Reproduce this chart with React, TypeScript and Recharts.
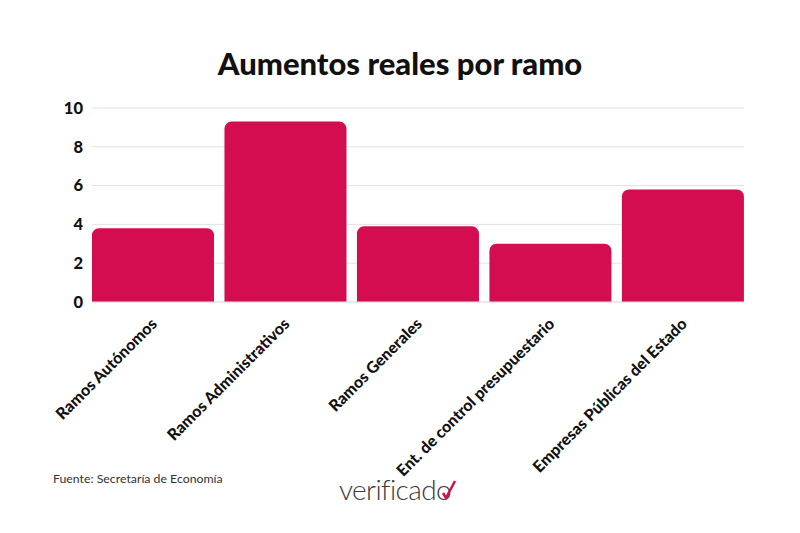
import React from 'react';
import { BarChart, Bar, XAxis, YAxis, CartesianGrid } from 'recharts';

const categories = [
  'Ramos Autónomos',
  'Ramos Administrativos',
  'Ramos Generales',
  'Ent. de control presupuestario',
  'Empresas Públicas del Estado',
];
const aumentos = [3.8, 9.3, 3.9, 3.0, 5.8];
const yTicks = [0, 2, 4, 6, 8, 10];

const data = categories.map((name, i) => ({ name, value: aumentos[i] }));

const FONT = 'Lato, "Open Sans", sans-serif';

const RotatedTick = (props: any) => {
  const { x, y, payload } = props;
  return (
    <g transform={`translate(${x + 5},${y + 15})`}>
      <text
        transform="rotate(-45)"
        textAnchor="end"
        fill="#111"
        fontSize={16}
        fontWeight={900}
        fontFamily={FONT}
      >
        {payload.value}
      </text>
    </g>
  );
};

export default function App() {
  return (
    <div
      style={{
        position: 'absolute',
        left: 0,
        top: 0,
        width: 800,
        height: 533,
        background: '#fff',
        fontFamily: FONT,
      }}
    >
      <div
        style={{
          position: 'absolute',
          top: 44,
          left: 0,
          width: 800,
          textAlign: 'center',
          fontSize: 31,
          fontWeight: 900,
          color: '#111',
        }}
      >
        Aumentos reales por ramo
      </div>

      <BarChart
        width={800}
        height={533}
        data={data}
        margin={{ top: 108, right: 56, bottom: 51, left: 52 }}
        barCategoryGap={5.2}
      >
        <CartesianGrid vertical={false} stroke="#e2e2e2" />
        <YAxis
          width={40}
          domain={[0, 10]}
          ticks={yTicks}
          axisLine={false}
          tickLine={false}
          tickMargin={3}
          tick={{ fill: '#111', fontSize: 16.5, fontWeight: 900, fontFamily: FONT }}
        />
        <XAxis
          dataKey="name"
          height={180}
          interval={0}
          padding={{ left: -5.2, right: -5.2 }}
          axisLine={{ stroke: '#e2e2e2' }}
          tickLine={false}
          tick={<RotatedTick />}
        />
        <Bar dataKey="value" fill="#d30d4f" radius={[7, 7, 0, 0]} isAnimationActive={false} />
      </BarChart>

      <div
        style={{
          position: 'absolute',
          left: 53,
          top: 471,
          fontSize: 12.3,
          color: '#333',
        }}
      >
        Fuente: Secretaría de Economía
      </div>

      <div
        style={{
          position: 'absolute',
          left: 339,
          top: 473,
          fontSize: 28,
          fontWeight: 300,
          color: '#3a3a3a',
          letterSpacing: -0.6,
          lineHeight: '32px',
        }}
      >
        verificado
        <svg
          width={20}
          height={24}
          style={{ position: 'absolute', right: -6, top: 4 }}
          viewBox="0 0 20 24"
        >
          <path d="M6 16 L9 21 L18 4" stroke="#d30d4f" strokeWidth={2.5} fill="none" />
        </svg>
      </div>
    </div>
  );
}
